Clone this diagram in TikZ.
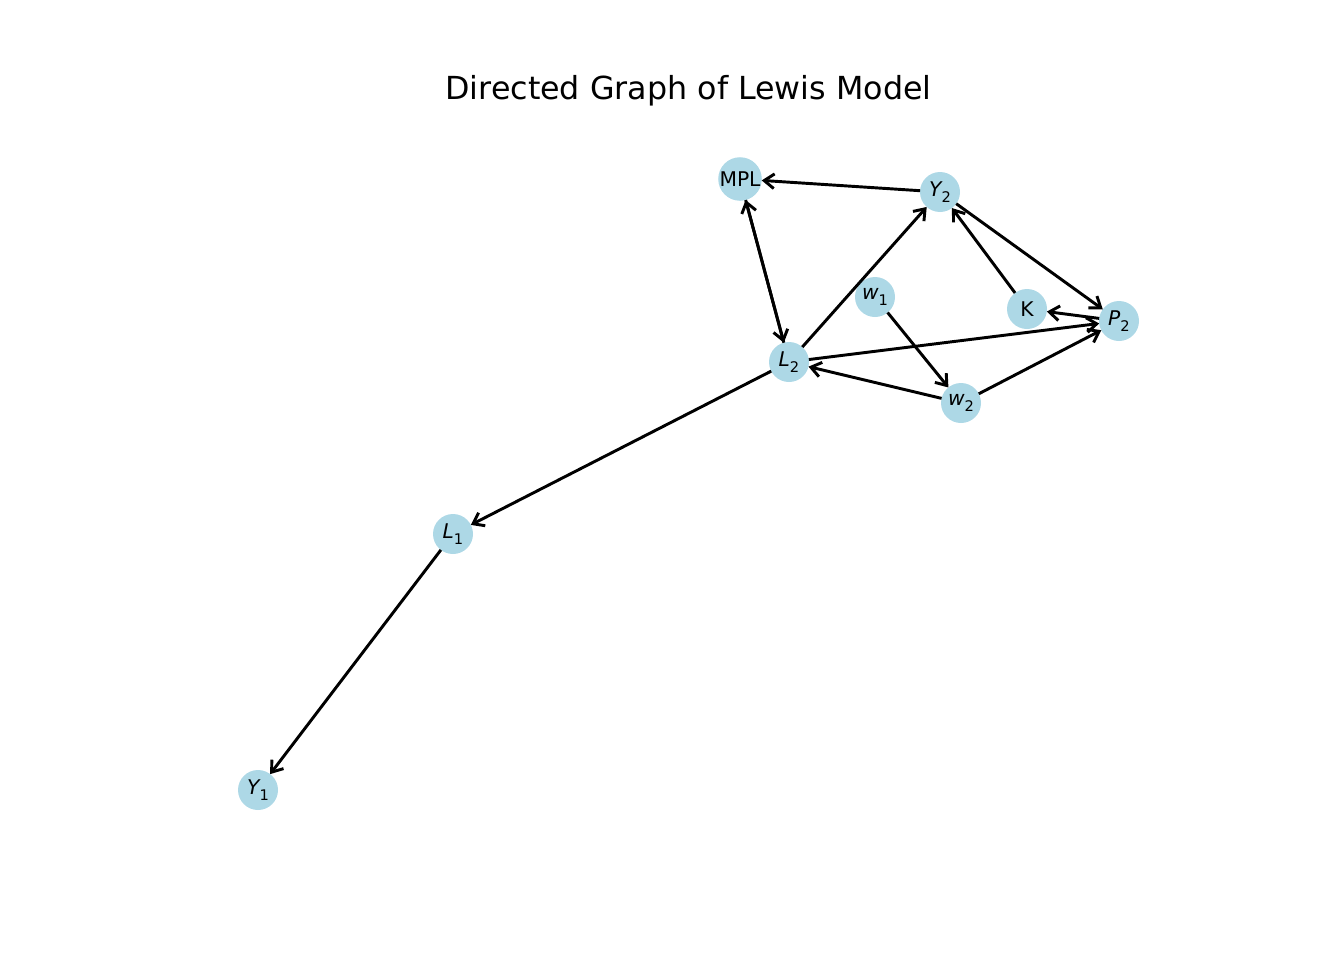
\documentclass[tikz,border=0pt]{standalone}
\usepackage{fontspec}
\setmainfont{DejaVu Sans}
\usetikzlibrary{arrows.meta}
\definecolor{nodeblue}{HTML}{ADD8E6}
\newcommand{\lab}[2]{{\itshape #1}\raisebox{-0.28em}{\fontsize{11pt}{13pt}\selectfont #2}}
\begin{document}
\begin{tikzpicture}[x=0.75pt,y=-0.75pt,
  vert/.style={circle,fill=nodeblue,minimum size=30pt,inner sep=0pt,outer sep=0pt,font=\fontsize{15.2pt}{18pt}\selectfont},
  edge/.style={line width=2.2pt,-{Straight Barb[length=7.5pt,width=11pt,line width=2.2pt]}}]
\useasboundingbox (0,0) rectangle (1344,960);
\node[font=\fontsize{23.8pt}{28pt}\selectfont] (title) at (688.5,91) {Directed Graph of Lewis Model};
\node[vert] (MPL) at (740,179) {MPL};
\node[vert] (Y2) at (940,192) {\lab{Y}{2}};
\node[vert] (w1) at (875,297) {\lab{w}{1}};
\node[vert] (K) at (1027,309) {K};
\node[vert] (P2) at (1119,321) {\lab{P}{2}};
\node[vert] (L2) at (789,362) {\lab{L}{2}};
\node[vert] (w2) at (961,403) {\lab{w}{2}};
\node[vert] (L1) at (453,534) {\lab{L}{1}};
\node[vert] (Y1) at (258,790) {\lab{Y}{1}};
\draw[edge] (Y2) -- (MPL);
\draw[edge] (MPL) -- (L2);
\draw[edge] (L2) -- (MPL);
\draw[edge] (L2) -- (Y2);
\draw[edge] (Y2) -- (P2);
\draw[edge] (K) -- (Y2);
\draw[edge] (P2) -- (K);
\draw[edge] (L2) -- (P2);
\draw[edge] (w1) -- (w2);
\draw[edge] (w2) -- (L2);
\draw[edge] (w2) -- (P2);
\draw[edge] (L2) -- (L1);
\draw[edge] (L1) -- (Y1);
\end{tikzpicture}
\end{document}
